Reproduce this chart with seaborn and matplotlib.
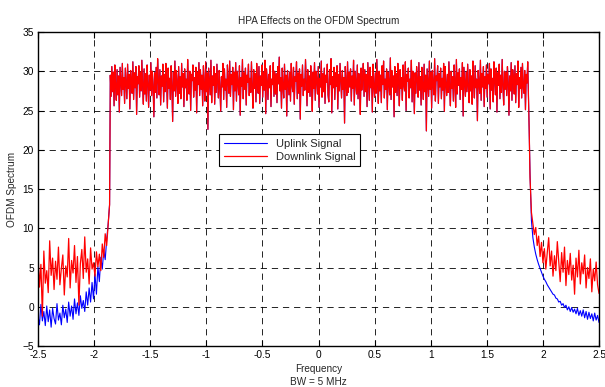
import numpy as np
import pandas as pd
import matplotlib
matplotlib.use("Agg")
import matplotlib.pyplot as plt
import seaborn as sns

# ---- data (dB) ----
# out-of-band, left side (-2.5 .. -1.875 MHz)
left_up = [-1.2, -2.3, 0.3, -1.8, -0.6, -2.4, 0.1, -1.9, -0.4, -2.6, -0.2, -1.5, -2.2, 0.4,
           -1.7, -0.8, -2.3, 0.2, -1.4, -0.3, -2.0, 0.6, -1.2, 0.1, -1.6, 1.0, -0.9, 0.5, -1.1,
           1.4, -0.2, 0.8, -0.6, 1.9, 0.2, 2.4, 0.6, 3.1, 1.0, 4.2, 1.6, 5.1, 3.2, 6.3, 4.8, 7.2,
           6.0, 8.5, 10.5]
left_dn = [6.8, 2.5, 5.4, -1.2, 7.1, 3.0, 4.6, 1.8, 8.4, 4.0, 6.2, 2.2, 5.8, 3.5, 7.6, 2.8,
           4.9, 6.6, 1.5, 5.2, 3.8, 8.7, 2.4, 5.9, 4.3, 7.8, 3.1, 6.4, 0.2, 5.5, 7.3, 3.6, 8.9,
           4.4, 6.1, 2.9, 7.5, 4.8, 5.6, 3.9, 7.0, 5.1, 6.7, 4.6, 8.0, 6.3, 9.3, 7.8, 10.5]

# in-band (shared by both signals, they overlap)
band = [
    13.0, 29.5, 26.8, 30.6, 27.4, 29.9, 25.6, 30.8, 28.1, 26.3, 30.2, 27.0, 29.4, 24.8, 30.5, 28.6, 26.9, 31.0, 27.7, 29.2,
    25.9, 30.4, 28.3, 26.5, 30.9, 27.8, 29.6, 25.2, 30.1, 28.8, 27.2, 31.2, 26.4, 29.8, 27.9, 30.6, 24.5, 29.3, 28.4, 30.7,
    26.7, 29.9, 27.5, 31.4, 28.2, 25.8, 30.3, 27.1, 29.7, 26.2, 30.8, 28.5, 25.4, 29.5, 27.6, 31.1, 26.9, 30.0, 28.0, 24.2,
    29.8, 27.3, 30.5, 26.6, 31.6, 28.7, 27.0, 30.2, 25.7, 29.4, 28.1, 30.9, 26.1, 29.6, 27.4, 31.0, 28.9, 25.3, 30.4, 27.8,
    29.1, 26.4, 30.7, 28.2, 23.6, 29.9, 27.5, 31.3, 26.8, 30.1, 28.6, 25.9, 30.6, 27.2, 29.3, 26.5, 31.0, 28.0, 29.7, 25.5,
    30.3, 27.9, 29.0, 26.3, 31.5, 28.4, 27.1, 30.0, 25.0, 29.6, 28.8, 30.8, 26.7, 29.2, 27.6, 30.5, 24.7, 29.9, 28.3, 31.1,
    26.9, 30.2, 27.7, 29.5, 25.6, 30.7, 28.1, 26.2, 31.2, 27.4, 29.8, 22.6, 30.4, 28.6, 27.0, 31.4, 26.0, 29.4, 28.2, 30.6,
    25.8, 29.7, 27.3, 30.9, 28.5, 26.6, 30.1, 27.9, 24.9, 29.3, 28.0, 31.0, 26.4, 30.3, 27.6, 29.0, 25.4, 30.8, 28.7, 27.2,
    31.3, 26.8, 29.6, 28.3, 30.5, 25.1, 29.9, 27.5, 31.1, 26.2, 30.0, 28.4, 27.0, 30.7, 24.4, 29.2, 28.1, 31.5, 26.5, 29.8,
    27.7, 30.4, 25.7, 29.5, 28.6, 30.9, 26.9, 29.1, 27.3, 31.2, 28.0, 25.3, 30.2, 27.8, 29.7, 26.1, 31.0, 28.5, 27.2, 30.6,
    25.9, 29.4, 28.2, 30.8, 26.7, 29.9, 27.6, 31.4, 24.6, 30.3, 28.8, 26.4, 29.6, 27.9, 30.7, 25.5, 29.0, 28.3, 31.1, 26.8,
    30.0, 27.1, 29.7, 26.0, 30.6, 28.4, 31.8, 27.5, 29.2, 25.3, 30.4, 28.0, 26.6, 30.9, 27.7, 29.5, 24.3, 30.1, 28.6, 27.0,
    29.9, 26.2, 31.0, 28.3, 27.4, 30.5, 25.8, 29.3, 28.7, 31.2, 26.5, 29.8, 27.2, 30.3, 23.9, 29.6, 28.1, 30.8, 26.9, 29.0,
    27.6, 31.5, 28.5, 25.6, 30.2, 27.3, 29.4, 26.8, 30.7, 28.2, 24.9, 29.9, 27.8, 31.1, 26.3, 30.0, 28.9, 27.1, 30.6, 25.4,
    29.1, 28.0, 31.3, 26.7, 29.7, 27.4, 30.4, 25.9, 29.5, 28.6, 30.9, 27.0, 26.1, 30.2, 28.3, 31.6, 24.7, 29.3, 27.9, 30.5,
    26.4, 29.8, 28.1, 30.7, 25.2, 29.6, 27.5, 31.0, 28.8, 26.6, 30.1, 27.7, 29.2, 23.4, 30.6, 28.4, 26.9, 31.2, 27.3, 29.9,
    28.0, 30.3, 26.2, 29.4, 27.8, 31.4, 25.7, 30.0, 28.5, 27.1, 30.8, 26.5, 29.7, 28.2, 24.5, 30.4, 27.6, 29.1, 31.0, 26.8,
    30.2, 27.4, 29.6, 25.5, 31.1, 28.7, 26.3, 30.5, 27.9, 29.3, 24.8, 30.9, 28.1, 26.7, 29.8, 27.2, 31.5, 28.4, 25.9, 30.0,
    27.5, 29.5, 26.0, 30.7, 28.3, 31.3, 26.6, 29.0, 27.7, 30.3, 25.1, 29.9, 28.6, 27.0, 31.7, 26.4, 30.1, 28.0, 29.4, 24.2,
    30.6, 27.3, 29.7, 26.9, 31.0, 28.5, 25.6, 30.2, 27.8, 29.2, 26.3, 30.8, 28.2, 27.5, 31.2, 25.0, 29.6, 28.7, 30.4, 26.6,
    29.0, 27.9, 31.4, 26.1, 30.0, 28.4, 24.6, 29.8, 27.2, 30.6, 28.9, 26.7, 31.1, 27.6, 29.3, 25.7, 30.5, 28.1, 26.4, 30.9,
    27.4, 29.5, 22.4, 30.3, 28.6, 26.8, 31.3, 27.7, 29.9, 25.3, 30.1, 28.3, 27.0, 31.6, 26.2, 29.4, 28.8, 30.7, 25.9, 29.7,
    28.0, 30.4, 26.5, 29.1, 27.6, 31.0, 24.9, 30.6, 28.4, 26.9, 29.6, 27.3, 31.2, 28.1, 25.6, 30.0, 27.8, 29.3, 26.2, 30.8,
    28.7, 25.4, 31.5, 27.1, 29.8, 28.2, 30.3, 26.4, 29.2, 27.7, 31.1, 24.3, 30.5, 28.6, 26.8, 29.9, 27.4, 30.9, 28.0, 26.0,
    30.2, 27.5, 29.4, 25.8, 31.3, 28.3, 26.6, 30.7, 27.9, 29.0, 23.7, 30.1, 28.5, 27.2, 31.4, 26.3, 29.7, 28.0, 30.6, 25.5,
    29.3, 27.8, 30.8, 26.7, 29.6, 28.4, 31.0, 25.2, 30.3, 27.6, 29.1, 26.1, 31.2, 28.7, 27.0, 30.4, 24.8, 29.8, 28.2, 30.9,
    26.5, 29.5, 27.3, 31.5, 28.1, 25.7, 30.0, 27.7, 29.9, 26.9, 30.6, 28.6, 24.4, 29.4, 27.5, 31.1, 26.3, 30.2, 28.9, 27.1,
    30.7, 26.0, 29.7, 28.3, 31.3, 25.4, 29.2, 27.8, 30.5, 26.6, 31.0, 28.0, 27.2, 30.1, 25.1, 29.6, 28.5, 31.2, 26.8, 22.3,
]

# out-of-band, right side (1.885 .. 2.5 MHz)
right_up = [17.0, 11.0, 8.8, 7.6, 6.7, 6.0, 5.4, 4.9, 4.4, 3.9, 3.5, 3.2, 2.8, 2.5, 2.2, 1.9,
            1.6, 1.5, 1.1, 1.0, 0.6, 0.7, 0.2, 0.4, -0.1, 0.2, -0.4, 0.0, -0.6, -0.1, -0.7, -0.3,
            -0.9, -0.2, -1.1, -0.5, -1.2, -0.4, -1.4, -0.6, -1.6, -0.7, -1.5, -0.9, -1.8, -0.8,
            -1.7, -1.1, -2.0]
right_dn = [16.5, 12.0, 10.6, 9.2, 10.1, 7.8, 9.0, 6.4, 8.2, 5.6, 7.4, 4.8, 6.9, 8.8, 5.2, 7.1,
            3.9, 6.5, 4.6, 8.3, 5.8, 3.2, 6.9, 4.4, 7.6, 2.7, 5.9, 4.1, 6.8, 3.4, 5.3, 1.6, 6.2,
            3.8, 7.2, 2.9, 5.6, 4.2, 6.6, 2.4, 5.0, 3.6, 6.1, 1.9, 4.8, 3.3, 5.7, 2.8, 1.7]

x_ticks = [-2.5, -2, -1.5, -1, -0.5, 0, 0.5, 1, 1.5, 2, 2.5]
x_tick_labels = ["-2.5", "-2", "-1.5", "-1", "-0.5", "0", "0.5", "1", "1.5", "2", "2.5"]
y_ticks = [-5, 0, 5, 10, 15, 20, 25, 30, 35]

# frequency grid for each segment
f_left = np.linspace(-2.5, -1.875, len(left_up))
f_band = np.linspace(-1.862, 1.878, len(band))
f_right = np.linspace(1.885, 2.5, len(right_up))

freq = np.concatenate([f_left, f_band, f_right])
uplink = np.concatenate([left_up, band, right_up])
downlink = np.concatenate([left_dn, band, right_dn])
df = pd.DataFrame({"freq": freq, "up": uplink, "down": downlink})

# ---- style ----
sns.set_style("white")
plt.rcParams["font.family"] = ["Liberation Sans", "DejaVu Sans"]
plt.rcParams["lines.scale_dashes"] = False

fig = plt.figure(figsize=(6.05, 3.87), dpi=100)
ax = fig.add_axes([0.0628, 0.1059, 0.9273, 0.8114])

sns.lineplot(data=df, x="freq", y="up", color="blue", lw=0.8, label="Uplink Signal",
             ax=ax, estimator=None, sort=False)
sns.lineplot(data=df, x="freq", y="down", color="red", lw=0.9, label="Downlink Signal",
             ax=ax, estimator=None, sort=False)

ax.set_xlim(-2.5, 2.5)
ax.set_ylim(-5, 35)
ax.set_xticks(x_ticks)
ax.set_xticklabels(x_tick_labels)
ax.set_yticks(y_ticks)
ax.tick_params(direction="in", length=4, width=0.8, top=True, right=True, bottom=True,
               left=True, labelsize=7.3, pad=3, colors="black")
for s in ax.spines.values():
    s.set_color("black")
    s.set_linewidth(1.0)

ax.set_axisbelow(True)
ax.grid(True, color="black", linestyle=(0, (4.5, 3.5)), linewidth=0.6)

ax.set_title("HPA Effects on the OFDM Spectrum", fontsize=7.2, pad=6)
ax.set_xlabel("Frequency\nBW = 5 MHz", fontsize=7.2, linespacing=1.35, labelpad=3)
ax.set_ylabel("OFDM Spectrum", fontsize=7.2, labelpad=4)

leg = ax.legend(loc="upper left", bbox_to_anchor=(0.323, 0.675), frameon=True, fancybox=False,
                edgecolor="black", framealpha=1, fontsize=8, handlelength=3.9,
                borderpad=0.4, labelspacing=0.3, handletextpad=0.8, borderaxespad=0)
leg.get_frame().set_linewidth(0.8)

fig.savefig("out.png", dpi=100)
